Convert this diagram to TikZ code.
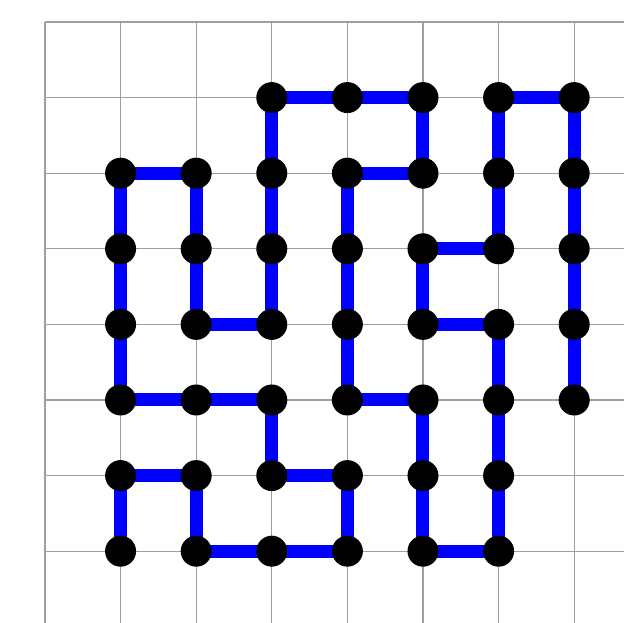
\documentclass[tikz,border=0pt]{standalone}
\usepackage{tikz}
\usetikzlibrary{backgrounds}

\tikzset{
  dot/.style={circle, fill=black, inner sep=0pt, minimum size=0.41cm},
  link/.style={blue, line width=4.9pt, line join=miter}
}

\begin{document}
\begin{tikzpicture}

\clip (-0.595, 0.063) rectangle (7.659, 8.291);

% ==================== Dots ====================
\foreach \y in {1,...,7} {
  \foreach \x in {1,...,7} {
    \ifnum\y=7
      \ifnum\x>2 \node[dot] (v\x\y) at (\x, \y) {}; \fi
    \else
      \ifnum\y<3
        \ifnum\x<7 \node[dot] (v\x\y) at (\x, \y) {}; \fi
      \else
        \node[dot] (v\x\y) at (\x, \y) {};
      \fi
    \fi
  }
}

\begin{pgfonlayer}{background}
  % Grid
  \draw[gray!75, thin] (0, 0) grid (8, 8);

  % ==================== Path through all dots ====================
  \draw[link] (v11.center) -- (v12.center) -- (v22.center) -- (v21.center)
    -- (v31.center) -- (v41.center) -- (v42.center) -- (v32.center)
    -- (v33.center) -- (v23.center) -- (v13.center) -- (v14.center)
    -- (v15.center) -- (v16.center) -- (v26.center) -- (v25.center)
    -- (v24.center) -- (v34.center) -- (v35.center) -- (v36.center)
    -- (v37.center) -- (v47.center) -- (v57.center) -- (v56.center)
    -- (v46.center) -- (v45.center) -- (v44.center) -- (v43.center)
    -- (v53.center) -- (v52.center) -- (v51.center) -- (v61.center)
    -- (v62.center) -- (v63.center) -- (v64.center) -- (v54.center)
    -- (v55.center) -- (v65.center) -- (v66.center) -- (v67.center)
    -- (v77.center) -- (v76.center) -- (v75.center) -- (v74.center)
    -- (v73.center);
\end{pgfonlayer}

\end{tikzpicture}
\end{document}
